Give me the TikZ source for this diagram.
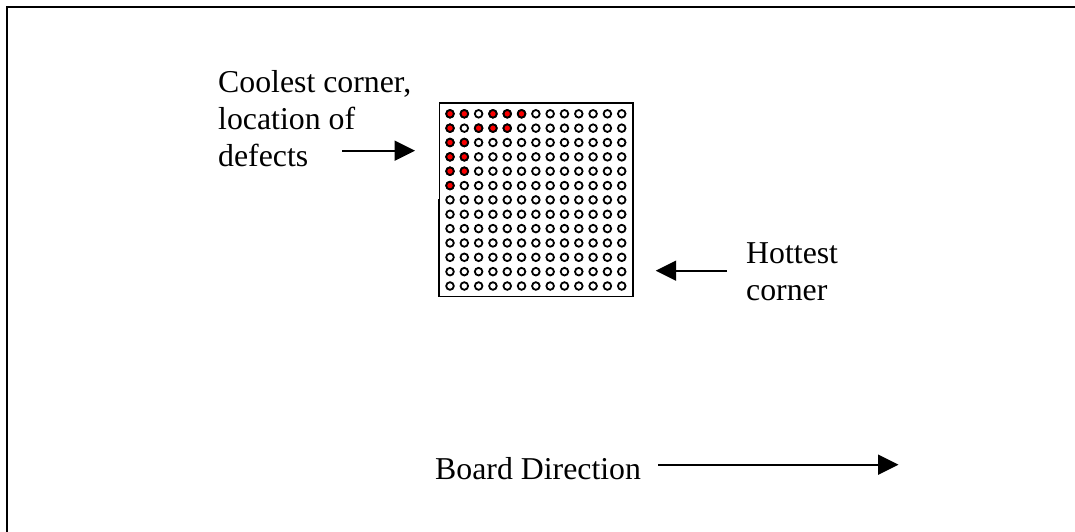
\documentclass[tikz,border=0pt]{standalone}
\usepackage{fontspec}
\setmainfont{Liberation Serif}
\usetikzlibrary{arrows.meta}
\definecolor{defect}{RGB}{250,0,0}
\tikzset{
  frameline/.style={draw=black,line width=2pt,line cap=rect},
  pkg/.style={draw=black,line width=1.8pt},
  ball/.style={circle,draw=black,line width=1.8pt,fill=white,minimum size=7.6pt,inner sep=0pt,outer sep=0pt},
  badball/.style={ball,fill=defect},
  lbl/.style={font=\fontsize{31.8pt}{37pt}\selectfont,align=left,anchor=north west,inner sep=0pt},
  pointer/.style={draw=black,line width=1.9pt,-{Triangle[length=20.5pt,width=20pt]}}
}
\begin{document}
\begin{tikzpicture}[x=1pt,y=-1pt]
\useasboundingbox (0,0) rectangle (1075,531);
\draw[frameline] (7,531) -- (7,6.8) -- (1075,6.8);
\draw[pkg] (439.4,103) rectangle (632.8,296.5);
\draw[pkg] (438.7,199) -- (438.7,296.5);
\foreach \r in {0,...,12}{
  \foreach \c in {0,...,12}{
    \node[ball] (b\r c\c) at ({450+14.31*\c},{113.8+14.35*\r}) {};
  }
}
\foreach \r/\c in {0/0,0/1,0/3,0/4,0/5,1/0,1/2,1/3,1/4,2/0,2/1,3/0,3/1,4/0,4/1,5/0}{
  \node[badball] (d\r c\c) at ({450+14.31*\c},{113.8+14.35*\r}) {};
}
\node[lbl] (cool) at (218,70.5) {Coolest corner,\\location of\\defects};
\node[lbl] (hot) at (746,242) {Hottest\\corner};
\node[lbl] (board) at (435,457.5) {Board Direction};
\coordinate (coolA) at (342,150.7);
\coordinate (coolB) at (415,150.7);
\coordinate (hotA) at (727,270.7);
\coordinate (hotB) at (655.7,270.7);
\coordinate (boardA) at (658,464.7);
\coordinate (boardB) at (898.5,464.7);
\draw[pointer] (coolA) -- (coolB);
\draw[pointer] (hotA) -- (hotB);
\draw[pointer] (boardA) -- (boardB);
\end{tikzpicture}
\end{document}
